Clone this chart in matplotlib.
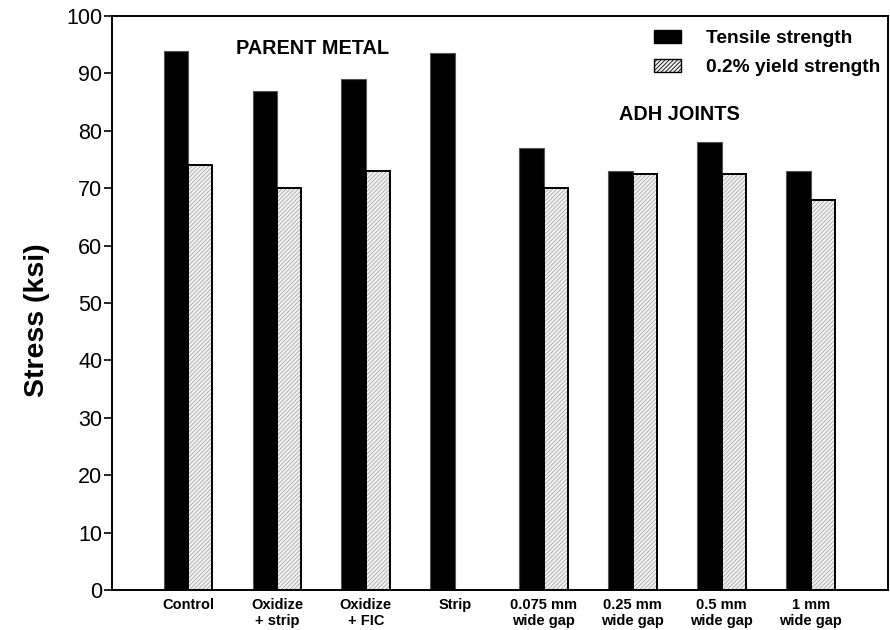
import matplotlib
matplotlib.use("Agg")
import matplotlib.pyplot as plt
from matplotlib.patches import Patch
import numpy as np

plt.rcParams['font.family'] = ['Liberation Sans', 'DejaVu Sans']
plt.rcParams['hatch.linewidth'] = 0.6

categories = ["Control", "Oxidize\n+ strip", "Oxidize\n+ FIC", "Strip",
              "0.075 mm\nwide gap", "0.25 mm\nwide gap", "0.5 mm\nwide gap",
              "1 mm\nwide gap"]
tensile = [94, 87, 89, 93.5, 77, 73, 78, 73]
yield_strength = [74, 70, 73, None, 70, 72.5, 72.5, 68]
y_ticks = [0, 10, 20, 30, 40, 50, 60, 70, 80, 90, 100]

fig = plt.figure(figsize=(8.9, 6.3), dpi=100)
ax = fig.add_axes([0.1253, 0.0635, 0.8725, 0.911])

x = np.arange(len(categories))
w = 0.275

ax.bar(x - w / 2, tensile, width=w, color="black", edgecolor="#555555",
       linewidth=0.8, zorder=2)

yx = [xi + w / 2 for xi, v in zip(x, yield_strength) if v is not None]
yv = [v for v in yield_strength if v is not None]
ax.bar(yx, yv, width=w, color="#f2f2f2", edgecolor="#a8a8a8",
       hatch="////////", linewidth=0, zorder=2)
ax.bar(yx, yv, width=w, fill=False, edgecolor="black", linewidth=1.4,
       zorder=3)

ax.set_xlim(-0.86, 7.87)
ax.set_ylim(0, 100)
ax.set_yticks(y_ticks)
ax.tick_params(axis="y", direction="out", length=6, width=1.2,
               labelsize=15.5, pad=0.5)
ax.set_xticks(x)
ax.set_xticklabels(categories, fontsize=10.5, fontweight="bold",
                   linespacing=1.12,
                   family=['Liberation Sans Narrow', 'Liberation Sans'])
ax.tick_params(axis="x", length=0, pad=6)
for s in ax.spines.values():
    s.set_linewidth(1.4)

ax.set_ylabel("Stress (ksi)", fontsize=20.5, fontweight="bold")
ax.yaxis.set_label_coords(-0.079, 0.47)

ax.text(1.40, 94.4, "PARENT METAL", ha="center", va="center",
        fontsize=14.3, fontweight="bold")
ax.text(5.52, 82.8, "ADH JOINTS", ha="center", va="center",
        fontsize=14.3, fontweight="bold")

handles = [
    Patch(facecolor="black", edgecolor="black", label="Tensile strength"),
    Patch(facecolor="#f2f2f2", edgecolor="black", hatch="////////",
          label="0.2% yield strength"),
]
leg = ax.legend(handles=handles, loc="upper right", frameon=False,
                bbox_to_anchor=(1.012, 1.006), handlelength=1.4,
                handleheight=0.65, handletextpad=1.3, labelspacing=0.62,
                prop={"weight": "bold", "size": 13.8})

fig.savefig("out.png", dpi=100)
